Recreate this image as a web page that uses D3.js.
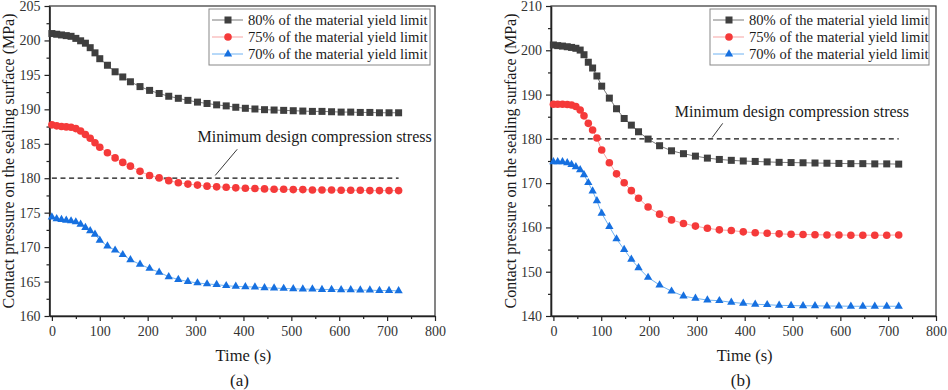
<!DOCTYPE html>
<html>
<head>
<meta charset="utf-8">
<script src="https://cdn.jsdelivr.net/npm/d3@7"></script>
<style>
  body { margin: 0; background: #fff; }
  svg text { font-family: "Liberation Serif", "Times New Roman", Times, serif !important; }
</style>
</head>
<body>
<svg id="chart" width="948" height="390"></svg>
<script>
// Time grids (s)
const timeA = [0, 10, 20, 30, 40, 50, 60, 70, 80, 90, 100, 116, 132, 148, 164,
  184, 204, 224, 244, 264, 284, 304, 324, 344, 364, 384, 404, 424, 444, 464,
  484, 504, 524, 544, 564, 584, 604, 624, 644, 664, 684, 704, 724];
const timeB = [0, 9, 19, 29, 38, 47, 56, 64, 73, 82, 91, 101, 117, 132, 148,
  163, 178, 198, 222, 247, 272, 297, 322, 347, 372, 397, 422, 447, 472, 497,
  522, 547, 572, 597, 622, 647, 672, 697, 722];

// Panel (a) contact pressure (MPa)
const a80 = [201.0, 200.9, 200.8, 200.7, 200.6, 200.3, 199.95, 199.6, 198.95, 198.2,
  197.35, 196.4, 195.45, 194.7, 194.0, 193.3, 192.75, 192.3, 191.9, 191.6,
  191.3, 191.05, 190.85, 190.65, 190.5, 190.3, 190.15, 190.05, 189.95, 189.9,
  189.85, 189.8, 189.75, 189.7, 189.7, 189.65, 189.6, 189.6, 189.55, 189.55,
  189.5, 189.5, 189.5];
const a75 = [187.75, 187.6, 187.5, 187.45, 187.4, 187.2, 186.85, 186.35, 185.8, 185.15,
  184.5, 183.7, 182.95, 182.3, 181.75, 181.0, 180.4, 180.05, 179.65, 179.35,
  179.15, 179.0, 178.85, 178.75, 178.7, 178.6, 178.55, 178.5, 178.45, 178.4,
  178.4, 178.35, 178.35, 178.3, 178.3, 178.3, 178.25, 178.25, 178.25, 178.2,
  178.2, 178.2, 178.2];
const a70 = [174.35, 174.1, 174.0, 173.9, 173.8, 173.65, 173.3, 172.85, 172.35, 171.85,
  171.0, 170.15, 169.55, 168.9, 168.15, 167.5, 166.9, 166.35, 165.7, 165.3,
  165.0, 164.8, 164.65, 164.55, 164.4, 164.3, 164.25, 164.2, 164.1, 164.05,
  164.0, 163.95, 163.9, 163.9, 163.85, 163.85, 163.8, 163.8, 163.75, 163.75,
  163.7, 163.7, 163.65];

// Panel (b) contact pressure (MPa)
const b80 = [201.2, 201.05, 200.95, 200.8, 200.65, 200.45, 200.05, 199.0, 197.3, 196.0,
  194.2, 191.9, 189.2, 186.8, 184.6, 183.1, 181.6, 179.95, 178.45, 177.3,
  176.65, 176.1, 175.65, 175.35, 175.15, 175.0, 174.9, 174.8, 174.7, 174.65,
  174.6, 174.55, 174.5, 174.45, 174.4, 174.4, 174.35, 174.35, 174.3];
const b75 = [187.8, 187.8, 187.8, 187.75, 187.65, 187.3, 186.5, 185.2, 183.5, 182.0,
  180.2, 177.5, 174.6, 172.1, 170.1, 168.3, 166.6, 164.6, 163.0, 161.7,
  160.9, 160.3, 159.8, 159.45, 159.3, 159.0, 158.8, 158.7, 158.55, 158.45,
  158.4, 158.35, 158.3, 158.3, 158.25, 158.25, 158.25, 158.25, 158.3];
const b70 = [174.8, 174.8, 174.8, 174.6, 174.2, 173.7, 173.0, 171.9, 170.1, 168.2,
  166.0, 163.2, 160.2, 157.4, 155.0, 152.8, 150.9, 148.7, 147.0, 145.6,
  144.5, 144.0, 143.6, 143.45, 143.1, 142.85, 142.65, 142.55, 142.4, 142.35,
  142.3, 142.3, 142.25, 142.25, 142.2, 142.2, 142.2, 142.2, 142.2];

const seriesNames = ["80% of the material yield limit", "75% of the material yield limit", "70% of the material yield limit"];
const designStress = 180;
const annotationText = "Minimum design compression stress";
const yTicksA = [160, 165, 170, 175, 180, 185, 190, 195, 200, 205];
const yTicksB = [140, 150, 160, 170, 180, 190, 200, 210];
const xTicks = [0, 100, 200, 300, 400, 500, 600, 700, 800];

const STYLES = [
  { marker: "square",   fill: "#3f3f3f", line: "#7a7a7a" },
  { marker: "circle",   fill: "#f53a3a", line: "#f7a3a3" },
  { marker: "triangle", fill: "#1670e0", line: "#6fb2f2" }
];

const svg = d3.select("#chart");

function drawPanel(p) {
  const x = d3.scaleLinear().domain([-5, 800]).range([p.left, p.right]);
  const y = d3.scaleLinear().domain(p.yDomain).range([316, 6]);
  const g = svg.append("g");

  // frame
  g.append("rect")
    .attr("x", p.left).attr("y", 6)
    .attr("width", p.right - p.left).attr("height", 310)
    .attr("fill", "none").attr("stroke", "#333").attr("stroke-width", 1.2);

  // minor ticks
  const minorX = d3.range(50, 800, 100);
  const minorY = d3.range(p.yDomain[0] + p.yStep / 2, p.yDomain[1], p.yStep);
  g.append("g").attr("transform", `translate(0,316)`)
    .call(d3.axisBottom(x).tickValues(minorX).tickSize(3).tickFormat("").tickSizeOuter(0))
    .call(s => s.select(".domain").remove());
  g.append("g").attr("transform", `translate(${p.left},0)`)
    .call(d3.axisLeft(y).tickValues(minorY).tickSize(3).tickFormat("").tickSizeOuter(0))
    .call(s => s.select(".domain").remove());

  // major axes
  const xAxis = g.append("g").attr("transform", `translate(0,316)`)
    .call(d3.axisBottom(x).tickValues(xTicks).tickSize(5).tickPadding(5).tickSizeOuter(0));
  const yAxis = g.append("g").attr("transform", `translate(${p.left},0)`)
    .call(d3.axisLeft(y).tickValues(p.yTicks).tickSize(5).tickPadding(4).tickSizeOuter(0));
  [xAxis, yAxis].forEach(ax => {
    ax.select(".domain").attr("stroke", "#222").attr("stroke-width", 1.6);
    ax.selectAll(".tick text")
      .attr("font-size", "14px").attr("fill", "#333");
  });
  g.selectAll(".tick line").attr("stroke", "#222").attr("stroke-width", 1.2);

  // design stress line
  g.append("line")
    .attr("x1", x(0)).attr("x2", x(p.times[p.times.length - 1]))
    .attr("y1", y(designStress)).attr("y2", y(designStress))
    .attr("stroke", "#111").attr("stroke-width", 1.2)
    .attr("stroke-dasharray", "5,3.6");

  // annotation
  g.append("line")
    .attr("x1", x(p.leader[0][0])).attr("y1", y(p.leader[0][1]))
    .attr("x2", x(p.leader[1][0])).attr("y2", y(p.leader[1][1]))
    .attr("stroke", "#222").attr("stroke-width", 0.9);
  g.append("text")
    .attr("x", x(p.noteAt[0])).attr("y", y(p.noteAt[1]))
    .attr("font-size", "16px").attr("fill", "#1a1a1a")
    .text(annotationText);

  // series
  const line = d3.line().x(d => x(d[0])).y(d => y(d[1]));
  p.series.forEach((vals, i) => {
    const st = STYLES[i];
    const pts = p.times.map((t, k) => [t, vals[k]]);
    g.append("path").datum(pts)
      .attr("d", line).attr("fill", "none")
      .attr("stroke", st.line).attr("stroke-width", 1);
    drawMarkers(g, pts.map(d => [x(d[0]), y(d[1])]), st);
  });

  // legend
  const lg = g.append("g").attr("transform", `translate(${p.legendX},9)`);
  lg.append("rect").attr("width", p.legendW).attr("height", 56)
    .attr("fill", "#fff").attr("stroke", "#888").attr("stroke-width", 1);
  seriesNames.forEach((name, i) => {
    const cy = 11 + i * 17;
    lg.append("line").attr("x1", 3).attr("x2", 34).attr("y1", cy).attr("y2", cy)
      .attr("stroke", STYLES[i].line).attr("stroke-width", 1);
    drawMarkers(lg, [[19, cy]], STYLES[i]);
    lg.append("text").attr("x", 39).attr("y", cy).attr("dy", "0.35em")
      .attr("font-size", "14.6px").attr("fill", "#1a1a1a").text(name);
  });

  // axis titles
  const cx = (x(0) + x(800)) / 2;
  g.append("text").attr("x", cx).attr("y", 355).attr("dy", "0.35em")
    .attr("text-anchor", "middle").attr("font-size", "16.5px").attr("fill", "#1a1a1a")
    .text("Time (s)");
  g.append("text").attr("x", cx - 4).attr("y", 380).attr("dy", "0.35em")
    .attr("text-anchor", "middle").attr("font-size", "17px").attr("fill", "#1a1a1a")
    .text(p.tag);
  g.append("text")
    .attr("transform", `translate(${p.left - 41},161) rotate(-90)`)
    .attr("text-anchor", "middle").attr("dy", "0.35em")
    .attr("font-size", "16px").attr("fill", "#1a1a1a")
    .text("Contact pressure on the sealing surface (MPa)");
}

function drawMarkers(g, pts, st) {
  if (st.marker === "square") {
    g.selectAll(null).data(pts).join("rect")
      .attr("x", d => d[0] - 3.5).attr("y", d => d[1] - 3.5)
      .attr("width", 7).attr("height", 7).attr("fill", st.fill);
  } else if (st.marker === "circle") {
    g.selectAll(null).data(pts).join("circle")
      .attr("cx", d => d[0]).attr("cy", d => d[1]).attr("r", 3.8)
      .attr("fill", st.fill);
  } else {
    const tri = d3.symbol().type(d3.symbolTriangle).size(30);
    g.selectAll(null).data(pts).join("path")
      .attr("d", tri)
      .attr("transform", d => `translate(${d[0]},${d[1]})`)
      .attr("fill", st.fill);
  }
}

drawPanel({
  left: 49.5, right: 435, yDomain: [160, 205], yStep: 5, yTicks: yTicksA,
  times: timeA, series: [a80, a75, a70], tag: "(a)",
  legendX: 209, legendW: 221,
  leader: [[387, 184.2], [341, 180.4]], noteAt: [304, 185.3]
});
drawPanel({
  left: 551, right: 936, yDomain: [140, 210], yStep: 10, yTicks: yTicksB,
  times: timeB, series: [b80, b75, b70], tag: "(b)",
  legendX: 710, legendW: 219,
  leader: [[354, 183.5], [332, 180.3]], noteAt: [254, 184.9]
});
</script>
</body>
</html>
